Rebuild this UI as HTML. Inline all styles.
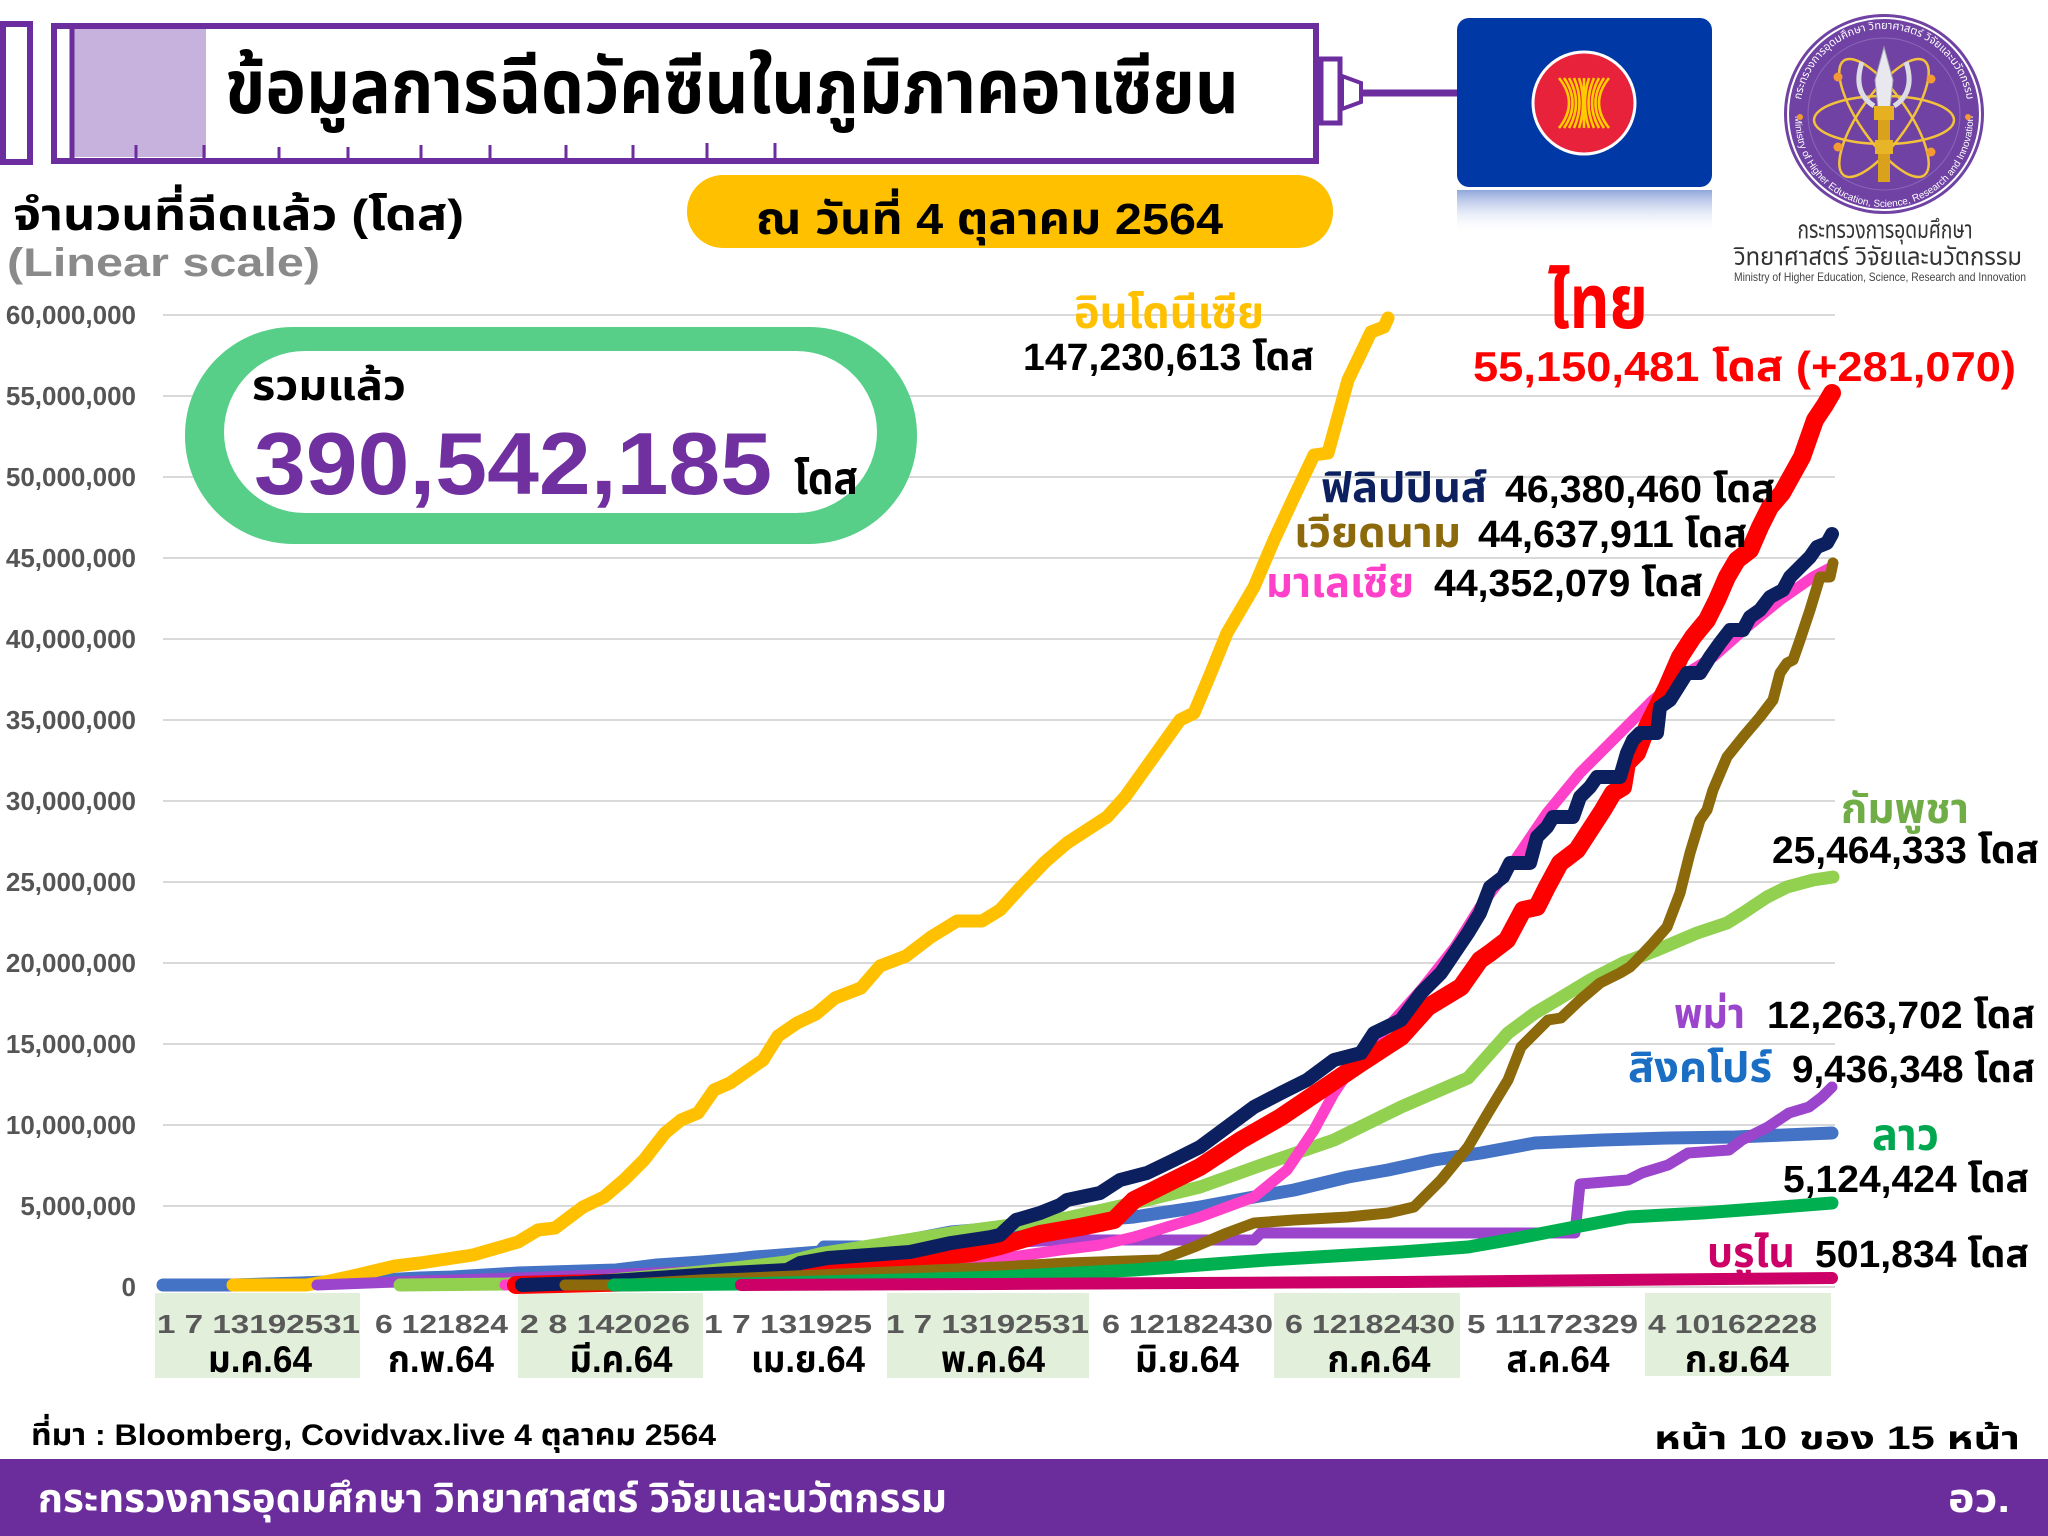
<!DOCTYPE html>
<html><head><meta charset="utf-8">
<style>
html,body{margin:0;padding:0;background:#fff;}
svg{display:block;}
.t{font-family:"Liberation Sans","Noto Sans Thai","Loma","Garuda","DejaVu Sans","Noto Sans CJK SC",sans-serif;font-weight:bold;}
.n{font-family:"Liberation Sans","Noto Sans Thai","Loma","Garuda","DejaVu Sans","Noto Sans CJK SC",sans-serif;font-weight:normal;}
.s{fill:none;stroke-linejoin:round;stroke-linecap:round;}
</style></head>
<body>
<svg width="2048" height="1536" viewBox="0 0 2048 1536" xmlns="http://www.w3.org/2000/svg">
<defs>
<linearGradient id="refl" x1="0" y1="0" x2="0" y2="1">
<stop offset="0" stop-color="#7b96d4" stop-opacity="0.85"/>
<stop offset="1" stop-color="#ffffff" stop-opacity="0"/>
</linearGradient>
<path id="ringTop" d="M1800,113 A84,84 0 0 1 1968,113"/>
<path id="ringBot" d="M1795,118 A89,89 0 0 0 1973,118"/>
</defs>
<rect width="2048" height="1536" fill="#fff"/>

<!-- Syringe -->
<g stroke="#6c2d9e" fill="none">
<rect x="3" y="24" width="27" height="138" stroke-width="6" fill="#fff"/>
<rect x="73" y="29" width="133" height="128" fill="#c7b2de" stroke="none"/>
<rect x="54" y="26" width="1262" height="135" stroke-width="6"/>
<line x1="72" y1="26" x2="72" y2="161" stroke-width="5"/>
<g stroke-width="3">
<line x1="136" y1="145" x2="136" y2="158"/><line x1="204" y1="145" x2="204" y2="158"/>
<line x1="279" y1="147" x2="279" y2="158"/><line x1="348" y1="147" x2="348" y2="158"/>
<line x1="421" y1="145" x2="421" y2="158"/><line x1="490" y1="145" x2="490" y2="158"/>
<line x1="566" y1="145" x2="566" y2="158"/><line x1="633" y1="145" x2="633" y2="158"/>
<line x1="707" y1="143" x2="707" y2="158"/><line x1="775" y1="143" x2="775" y2="158"/>
</g>
<rect x="1321" y="59" width="19" height="64" stroke-width="5" fill="#fff"/>
<polygon points="1342,76 1361,83 1361,102 1342,109" stroke-width="4" fill="#fff"/>
<line x1="1361" y1="93" x2="1460" y2="93" stroke-width="7"/>
</g>
<text class="t" x="225" y="113" font-size="76" fill="#000" textLength="1014" lengthAdjust="spacingAndGlyphs">ข้อมูลการฉีดวัคซีนในภูมิภาคอาเซียน</text>

<!-- ASEAN flag -->
<rect x="1457" y="190" width="255" height="44" fill="url(#refl)"/>
<rect x="1457" y="18" width="255" height="169" rx="12" fill="#0039a6"/>
<circle cx="1584" cy="103" r="51" fill="#e8223a" stroke="#fff" stroke-width="3"/>
<g stroke="#ffcc00" stroke-width="2.6" fill="none">
<path d="M1559,78 Q1579,103 1559,128"/><path d="M1564,78 Q1581,103 1564,128"/>
<path d="M1569,78 Q1583,103 1569,128"/><path d="M1574,78 Q1585,103 1574,128"/>
<path d="M1579,78 Q1587,103 1579,128"/><path d="M1584,78 L1584,128"/>
<path d="M1589,78 Q1581,103 1589,128"/><path d="M1594,78 Q1583,103 1594,128"/>
<path d="M1599,78 Q1585,103 1599,128"/><path d="M1604,78 Q1587,103 1604,128"/>
<path d="M1609,78 Q1589,103 1609,128"/>
</g>

<!-- MHESI logo -->
<circle cx="1884" cy="114" r="100" fill="#6f42a3"/>
<circle cx="1884" cy="114" r="96" fill="none" stroke="#fff" stroke-width="2"/>
<circle cx="1884" cy="114" r="76" fill="none" stroke="#8a66b8" stroke-width="1"/>
<text class="n" font-size="11" fill="#fff"><textPath href="#ringTop" startOffset="50%" text-anchor="middle">กระทรวงการอุดมศึกษา วิทยาศาสตร์ วิจัยและนวัตกรรม</textPath></text>
<text class="n" font-size="10" fill="#fff"><textPath href="#ringBot" startOffset="50%" text-anchor="middle">Ministry of Higher Education, Science, Research and Innovation</textPath></text>
<g fill="none" stroke="#f2c23a" stroke-width="2.5">
<ellipse cx="1884" cy="120" rx="70" ry="24"/>
<ellipse cx="1884" cy="118" rx="70" ry="24" transform="rotate(55 1884 118)"/>
<ellipse cx="1884" cy="118" rx="70" ry="24" transform="rotate(-55 1884 118)"/>
</g>
<g fill="#f39a35">
<circle cx="1838" cy="77" r="4.5"/><circle cx="1931" cy="79" r="4.5"/>
<circle cx="1838" cy="147" r="4.5"/><circle cx="1931" cy="152" r="4.5"/>
<circle cx="1800" cy="117" r="3"/><circle cx="1968" cy="117" r="3"/>
</g>
<polygon points="1884,47 1893,80 1890,108 1878,108 1875,80" fill="#e8e8ee" stroke="#a0a0b0" stroke-width="1"/>
<path d="M1862,62 Q1852,92 1874,106" fill="none" stroke="#dcdce4" stroke-width="5"/>
<path d="M1906,62 Q1916,92 1894,106" fill="none" stroke="#dcdce4" stroke-width="5"/>
<rect x="1874" y="106" width="20" height="14" fill="#e6b020"/>
<rect x="1878" y="120" width="12" height="62" fill="#d9a11c"/>
<rect x="1875" y="140" width="18" height="14" fill="#e8b428"/>
<text class="n" x="1885" y="238" font-size="25" fill="#333" text-anchor="middle" textLength="175" lengthAdjust="spacingAndGlyphs">กระทรวงการอุดมศึกษา</text>
<text class="n" x="1878" y="265" font-size="25" fill="#333" text-anchor="middle" textLength="288" lengthAdjust="spacingAndGlyphs">วิทยาศาสตร์ วิจัยและนวัตกรรม</text>
<text class="n" x="1880" y="281" font-size="12" fill="#444" text-anchor="middle" textLength="292" lengthAdjust="spacingAndGlyphs">Ministry of Higher Education, Science, Research and Innovation</text>

<!-- headers -->
<text class="t" x="13" y="230" font-size="44" fill="#000" textLength="451" lengthAdjust="spacingAndGlyphs">จำนวนที่ฉีดแล้ว (โดส)</text>
<text class="t" x="7" y="276" font-size="40" fill="#8a8a8a" textLength="313" lengthAdjust="spacingAndGlyphs">(Linear scale)</text>
<rect x="687" y="175" width="646" height="73" rx="36" fill="#ffc000"/>
<text class="t" x="756" y="234" font-size="44" fill="#000" textLength="467" lengthAdjust="spacingAndGlyphs">ณ วันที่ 4 ตุลาคม 2564</text>

<!-- gridlines -->
<g stroke="#d9d9d9" stroke-width="2">
<line x1="163" y1="315" x2="1835" y2="315"/><line x1="163" y1="396" x2="1835" y2="396"/>
<line x1="163" y1="477" x2="1835" y2="477"/><line x1="163" y1="558" x2="1835" y2="558"/>
<line x1="163" y1="639" x2="1835" y2="639"/><line x1="163" y1="720" x2="1835" y2="720"/>
<line x1="163" y1="801" x2="1835" y2="801"/><line x1="163" y1="882" x2="1835" y2="882"/>
<line x1="163" y1="963" x2="1835" y2="963"/><line x1="163" y1="1044" x2="1835" y2="1044"/>
<line x1="163" y1="1125" x2="1835" y2="1125"/><line x1="163" y1="1206" x2="1835" y2="1206"/>
<line x1="163" y1="1287" x2="1835" y2="1287"/>
</g>
<g class="t" font-size="26" fill="#555" text-anchor="end">
<text x="136" y="324">60,000,000</text><text x="136" y="405">55,000,000</text>
<text x="136" y="486">50,000,000</text><text x="136" y="567">45,000,000</text>
<text x="136" y="648">40,000,000</text><text x="136" y="729">35,000,000</text>
<text x="136" y="810">30,000,000</text><text x="136" y="891">25,000,000</text>
<text x="136" y="972">20,000,000</text><text x="136" y="1053">15,000,000</text>
<text x="136" y="1134">10,000,000</text><text x="136" y="1215">5,000,000</text>
<text x="136" y="1296">0</text>
</g>

<!-- total pill -->
<rect x="185" y="327" width="732" height="217" rx="108" fill="#57cf88"/>
<rect x="224" y="351" width="653" height="162" rx="81" fill="#fff"/>
<text class="t" x="252" y="400" font-size="42" fill="#000" textLength="154" lengthAdjust="spacingAndGlyphs">รวมแล้ว</text>
<text class="t" x="254" y="494" font-size="88" fill="#7030a0" textLength="518" lengthAdjust="spacingAndGlyphs">390,542,185</text>
<text class="t" x="794" y="494" font-size="44" fill="#000" textLength="64" lengthAdjust="spacingAndGlyphs">โดส</text>

<!-- x axis -->
<g fill="#e2efda">
<rect x="155" y="1293" width="205" height="85"/>
<rect x="518" y="1293" width="185" height="85"/>
<rect x="887" y="1293" width="202" height="85"/>
<rect x="1274" y="1293" width="186" height="85"/>
<rect x="1645" y="1293" width="186" height="83"/>
</g>
<g class="t" font-size="26" fill="#595959" style="white-space:pre">
<text x="157" y="1333" textLength="203" lengthAdjust="spacingAndGlyphs">1  7 13192531</text>
<text x="375" y="1333" textLength="133" lengthAdjust="spacingAndGlyphs">6 121824</text>
<text x="520" y="1333" textLength="170" lengthAdjust="spacingAndGlyphs">2  8 142026</text>
<text x="704" y="1333" textLength="168" lengthAdjust="spacingAndGlyphs">1  7 131925</text>
<text x="886" y="1333" textLength="203" lengthAdjust="spacingAndGlyphs">1  7 13192531</text>
<text x="1102" y="1333" textLength="171" lengthAdjust="spacingAndGlyphs">6 12182430</text>
<text x="1285" y="1333" textLength="170" lengthAdjust="spacingAndGlyphs">6 12182430</text>
<text x="1467" y="1333" textLength="171" lengthAdjust="spacingAndGlyphs">5 11172329</text>
<text x="1648" y="1333" textLength="169" lengthAdjust="spacingAndGlyphs">4 10162228</text>
</g>
<g class="t" font-size="37" fill="#000" text-anchor="middle">
<text x="260" y="1372" textLength="104" lengthAdjust="spacingAndGlyphs">ม.ค.64</text>
<text x="441" y="1372" textLength="106" lengthAdjust="spacingAndGlyphs">ก.พ.64</text>
<text x="621" y="1372" textLength="103" lengthAdjust="spacingAndGlyphs">มี.ค.64</text>
<text x="808" y="1372" textLength="114" lengthAdjust="spacingAndGlyphs">เม.ย.64</text>
<text x="993" y="1372" textLength="104" lengthAdjust="spacingAndGlyphs">พ.ค.64</text>
<text x="1187" y="1372" textLength="104" lengthAdjust="spacingAndGlyphs">มิ.ย.64</text>
<text x="1379" y="1372" textLength="103" lengthAdjust="spacingAndGlyphs">ก.ค.64</text>
<text x="1558" y="1372" textLength="103" lengthAdjust="spacingAndGlyphs">ส.ค.64</text>
<text x="1737" y="1372" textLength="104" lengthAdjust="spacingAndGlyphs">ก.ย.64</text>
</g>

<!-- series -->
<polyline class="s" stroke="#4472c4" stroke-width="13" points="163,1285 232,1285 300,1283 380,1280 420,1278 453,1277 518,1273 616,1270 657,1265 702,1262 738,1259 755,1257 820,1252 824,1247 873,1247 951,1232 1060,1223 1134,1217 1200,1207 1254,1197 1294,1190 1348,1177 1388,1170 1434,1160 1481,1153 1535,1143 1602,1140 1668,1138 1735,1137 1832,1133"/>
<polyline class="s" stroke="#ffc000" stroke-width="13" points="233,1285 306,1285 330,1281 357,1275 395,1266 420,1263 473,1255 518,1242 538,1230 555,1228 583,1207 604,1197 624,1180 644,1160 665,1133 681,1120 698,1113 714,1090 730,1083 763,1060 778,1036 797,1023 816,1014 835,998 861,988 880,966 906,956 931,937 957,921 982,921 1000,910 1020,888 1045,862 1067,843 1090,828 1107,817 1125,797 1140,776 1160,748 1180,720 1194,713 1210,675 1227,633 1254,587 1274,540 1294,497 1314,455 1328,453 1348,380 1361,353 1371,332 1384,327 1388,318"/>
<polyline class="s" stroke="#9b44cc" stroke-width="11" points="317,1285 420,1281 518,1278 706,1271 787,1266 900,1256 1000,1243 1060,1240 1254,1240 1261,1233 1575,1233 1580,1184 1628,1180 1642,1173 1668,1165 1688,1153 1729,1150 1742,1140 1768,1127 1789,1113 1809,1107 1822,1097 1832,1087"/>
<polyline class="s" stroke="#92d050" stroke-width="13" points="400,1285 506,1284 600,1281 700,1272 787,1262 824,1253 869,1246 951,1233 1012,1225 1067,1218 1134,1203 1200,1187 1267,1163 1334,1140 1401,1107 1468,1078 1508,1033 1535,1013 1557,1000 1590,980 1623,963 1657,950 1697,933 1727,923 1743,913 1767,897 1787,887 1813,880 1833,877"/>
<polyline class="s" stroke="#ff40c8" stroke-width="11" points="505,1285 600,1281 706,1273 850,1266 971,1260 1012,1257 1060,1250 1100,1245 1134,1237 1200,1217 1254,1197 1287,1170 1314,1130 1334,1093 1361,1053 1388,1027 1421,990 1455,947 1480,907 1513,863 1547,813 1580,773 1613,740 1653,700 1687,673 1713,657 1747,627 1780,600 1813,577 1832,567"/>
<polyline class="s" stroke="#ff0000" stroke-width="18" points="516,1285 600,1283 700,1281 787,1277 869,1267 910,1260 971,1253 1000,1246 1040,1234 1080,1227 1114,1220 1134,1200 1160,1187 1200,1167 1241,1140 1281,1117 1321,1090 1361,1063 1401,1037 1428,1007 1461,987 1480,960 1490,953 1507,940 1523,910 1537,907 1547,887 1560,863 1577,850 1590,830 1603,810 1613,793 1623,787 1627,763 1637,753 1647,727 1657,707 1667,687 1680,657 1693,637 1707,620 1717,600 1727,577 1737,560 1750,550 1760,527 1770,507 1782,493 1792,475 1802,457 1815,420 1825,405 1832,393"/>
<polyline class="s" stroke="#0c2060" stroke-width="14" points="522,1285 580,1283 657,1278 714,1274 787,1270 800,1263 828,1258 869,1255 910,1252 951,1243 991,1237 1000,1235 1016,1220 1040,1213 1060,1205 1067,1200 1100,1193 1120,1180 1147,1173 1174,1160 1200,1147 1227,1127 1254,1107 1281,1093 1307,1080 1334,1060 1361,1053 1374,1033 1401,1020 1421,993 1441,973 1468,933 1480,913 1490,887 1503,877 1510,863 1530,863 1537,837 1547,827 1553,817 1573,817 1580,797 1590,787 1597,777 1620,777 1627,753 1633,740 1640,733 1657,733 1660,707 1670,700 1687,673 1700,673 1710,657 1720,643 1730,630 1743,630 1750,617 1760,610 1770,597 1783,590 1790,577 1800,567 1810,557 1817,547 1827,543 1832,534"/>
<polyline class="s" stroke="#8c6a0c" stroke-width="11" points="565,1285 614,1285 700,1280 889,1272 1000,1267 1067,1263 1160,1260 1194,1247 1227,1233 1254,1223 1294,1220 1348,1217 1388,1213 1414,1207 1441,1180 1468,1147 1488,1113 1508,1080 1521,1047 1548,1020 1561,1018 1580,1000 1600,983 1620,973 1630,967 1637,960 1653,943 1667,927 1680,893 1690,853 1700,820 1707,810 1713,790 1727,757 1743,737 1760,717 1773,700 1780,673 1787,663 1793,660 1800,640 1810,610 1820,577 1830,577 1833,563"/>
<polyline class="s" stroke="#00b050" stroke-width="13" points="614,1285 741,1284 900,1280 1000,1277 1134,1270 1267,1260 1401,1252 1468,1247 1508,1240 1575,1227 1628,1217 1702,1213 1769,1208 1832,1203"/>
<polyline class="s" stroke="#cc0066" stroke-width="12" points="741,1285 1000,1284 1400,1282 1832,1278"/>

<!-- annotations -->
<g class="t">
<text x="1074" y="328" font-size="44" fill="#ffc000" textLength="190" lengthAdjust="spacingAndGlyphs">อินโดนีเซีย</text>
<text x="1023" y="370" font-size="38" fill="#000" textLength="291" lengthAdjust="spacingAndGlyphs">147,230,613 โดส</text>
<text x="1548" y="328" font-size="76" fill="#ff0000" textLength="100" lengthAdjust="spacingAndGlyphs">ไทย</text>
<text x="1473" y="381" font-size="42" fill="#ff0000" textLength="543" lengthAdjust="spacingAndGlyphs">55,150,481 โดส (+281,070)</text>
<text x="1321" y="502" font-size="42" fill="#0c2060" textLength="166" lengthAdjust="spacingAndGlyphs">ฟิลิปปินส์</text>
<text x="1505" y="502" font-size="38" fill="#000" textLength="270" lengthAdjust="spacingAndGlyphs">46,380,460 โดส</text>
<text x="1294" y="547" font-size="42" fill="#8c6a0c" textLength="167" lengthAdjust="spacingAndGlyphs">เวียดนาม</text>
<text x="1478" y="547" font-size="38" fill="#000" textLength="269" lengthAdjust="spacingAndGlyphs">44,637,911 โดส</text>
<text x="1266" y="597" font-size="42" fill="#ff40c8" textLength="148" lengthAdjust="spacingAndGlyphs">มาเลเซีย</text>
<text x="1434" y="596" font-size="38" fill="#000" textLength="269" lengthAdjust="spacingAndGlyphs">44,352,079 โดส</text>
<text x="1841" y="823" font-size="42" fill="#70ad47" textLength="128" lengthAdjust="spacingAndGlyphs">กัมพูชา</text>
<text x="1772" y="863" font-size="38" fill="#000" textLength="267" lengthAdjust="spacingAndGlyphs">25,464,333 โดส</text>
<text x="1674" y="1028" font-size="42" fill="#9b44cc" textLength="71" lengthAdjust="spacingAndGlyphs">พม่า</text>
<text x="1767" y="1028" font-size="38" fill="#000" textLength="268" lengthAdjust="spacingAndGlyphs">12,263,702 โดส</text>
<text x="1628" y="1082" font-size="42" fill="#1a6ec4" textLength="144" lengthAdjust="spacingAndGlyphs">สิงคโปร์</text>
<text x="1792" y="1082" font-size="38" fill="#000" textLength="243" lengthAdjust="spacingAndGlyphs">9,436,348 โดส</text>
<text x="1872" y="1150" font-size="44" fill="#00a650" textLength="67" lengthAdjust="spacingAndGlyphs">ลาว</text>
<text x="1783" y="1192" font-size="38" fill="#000" textLength="246" lengthAdjust="spacingAndGlyphs">5,124,424 โดส</text>
<text x="1707" y="1267" font-size="42" fill="#cc0066" textLength="88" lengthAdjust="spacingAndGlyphs">บรูไน</text>
<text x="1815" y="1267" font-size="38" fill="#000" textLength="214" lengthAdjust="spacingAndGlyphs">501,834 โดส</text>
</g>

<!-- source & page -->
<text class="t" x="31" y="1445" font-size="30" fill="#000" textLength="685" lengthAdjust="spacingAndGlyphs">ที่มา : Bloomberg, Covidvax.live 4 ตุลาคม 2564</text>
<text class="t" x="1654" y="1449" font-size="32" fill="#000" textLength="366" lengthAdjust="spacingAndGlyphs">หน้า 10 ของ 15 หน้า</text>

<!-- footer -->
<rect x="0" y="1459" width="2048" height="77" fill="#6c2d9c"/>
<text class="t" x="38" y="1512" font-size="40" fill="#fff" textLength="909" lengthAdjust="spacingAndGlyphs">กระทรวงการอุดมศึกษา วิทยาศาสตร์ วิจัยและนวัตกรรม</text>
<text class="t" x="1948" y="1512" font-size="40" fill="#fff" textLength="62" lengthAdjust="spacingAndGlyphs">อว.</text>
</svg>
</body></html>
